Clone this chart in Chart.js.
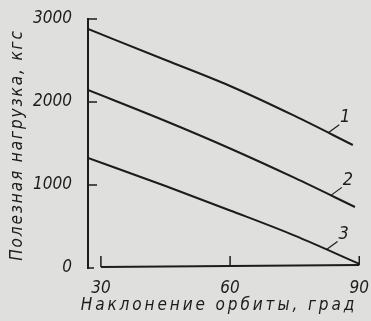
<!DOCTYPE html>
<html lang="ru">
  <head>
    <meta charset="UTF-8" />
    <title>Полезная нагрузка и наклонение орбиты</title>
    <script src="https://cdn.jsdelivr.net/npm/chart.js"></script>
    <style>
      html, body {
        margin: 0;
        padding: 0;
        background: #dfdfdd;
      }
      #wrap {
        width: 371px;
        height: 321px;
      }
    </style>
  </head>
  <body>
    <div id="wrap">
      <canvas id="payloadChart" width="371" height="321"></canvas>
    </div>
    <script>
      // данные
      const incl1 = [27, 45, 60, 75, 88.5];
      const load1 = [2880, 2506, 2193, 1832, 1482];
      const incl2 = [27, 45, 60, 75, 89];
      const load2 = [2145, 1771, 1440, 1085, 735];
      const incl3 = [27, 45, 60, 75, 90];
      const load3 = [1325, 988, 693, 390, 50];
      const curveLabels = ['1', '2', '3'];
      const xTicks = [30, 60, 90];
      const yTicks = [0, 1000, 2000, 3000];
      const xTitle = 'Наклонение орбиты, град';
      const yTitle = 'Полезная нагрузка, кгс';

      const ink = '#1c1c1c';
      const font = '"DejaVu Sans Condensed", sans-serif';

      const toPoints = (xs, ys) => xs.map((x, i) => ({ x: x, y: ys[i] }));

      // значение кривой в точке x (линейно между точками)
      function valueAt(data, x) {
        for (let i = 1; i < data.length; i++) {
          if (x <= data[i].x) {
            const a = data[i - 1], b = data[i];
            return a.y + ((x - a.x) * (b.y - a.y)) / (b.x - a.x);
          }
        }
        return data[data.length - 1].y;
      }

      const decorations = {
        id: 'decorations',
        afterDraw(chart) {
          const ctx = chart.ctx;
          const xs = chart.scales.x;
          const ys = chart.scales.y;
          const left = chart.chartArea.left;
          ctx.save();
          ctx.strokeStyle = ink;
          ctx.lineWidth = 2;
          ctx.lineCap = 'butt';

          // ось X (от 30 до 90) и засечки вверх
          const y0 = ys.getPixelForValue(0) - 1;
          ctx.beginPath();
          ctx.moveTo(xs.getPixelForValue(30), y0);
          ctx.lineTo(xs.getPixelForValue(90), y0 - 2);
          ctx.stroke();
          ctx.lineWidth = 1.5;
          xTicks.forEach((t) => {
            const px = xs.getPixelForValue(t);
            ctx.beginPath();
            ctx.moveTo(px, y0 - (t === 90 ? 2 : 0));
            ctx.lineTo(px, y0 - 11);
            ctx.stroke();
          });

          // засечки оси Y внутрь
          yTicks.forEach((t) => {
            const py = ys.getPixelForValue(t);
            ctx.beginPath();
            ctx.moveTo(left, py);
            ctx.lineTo(left + (t === 0 ? 6 : 9), py);
            ctx.stroke();
          });

          // номера кривых с выносками
          ctx.lineWidth = 1.2;
          ctx.fillStyle = ink;
          ctx.font = 'italic 18px ' + font;
          ctx.textAlign = 'center';
          ctx.textBaseline = 'middle';
          const at = [82.8, 83.4, 82.4];
          chart.data.datasets.forEach((ds, i) => {
            const px = xs.getPixelForValue(at[i]);
            const py = ys.getPixelForValue(valueAt(ds.data, at[i]));
            ctx.beginPath();
            ctx.moveTo(px, py);
            ctx.lineTo(px + 11, py - 8);
            ctx.stroke();
            ctx.fillText(curveLabels[i], px + 17, py - 15);
          });

          // подписи осей с разрядкой
          ctx.font = 'italic 17px ' + font;
          ctx.letterSpacing = '2.9px';
          ctx.fillText(xTitle, 219, 306);
          ctx.translate(18, 145);
          ctx.rotate(-Math.PI / 2);
          ctx.letterSpacing = '1.9px';
          ctx.fillText(yTitle, 0, 0);
          ctx.restore();
        },
      };

      const lineStyle = {
        borderColor: ink,
        borderWidth: 2,
        pointRadius: 0,
        fill: false,
        cubicInterpolationMode: 'monotone',
      };

      new Chart(document.getElementById('payloadChart'), {
        type: 'line',
        data: {
          datasets: [
            { label: curveLabels[0], data: toPoints(incl1, load1), ...lineStyle },
            { label: curveLabels[1], data: toPoints(incl2, load2), ...lineStyle },
            { label: curveLabels[2], data: toPoints(incl3, load3), ...lineStyle },
          ],
        },
        options: {
          responsive: false,
          animation: false,
          layout: { padding: { top: 19, right: 11, left: 0, bottom: 0 } },
          plugins: {
            legend: { display: false },
            tooltip: { enabled: false },
          },
          scales: {
            x: {
              type: 'linear',
              min: 27,
              max: 90,
              afterBuildTicks: (s) => {
                s.ticks = xTicks.map((v) => ({ value: v }));
              },
              afterFit: (s) => {
                s.height = 53;
              },
              grid: { display: false },
              border: { display: false },
              ticks: {
                color: ink,
                padding: 2,
                callback: (v) => String(v),
                font: { family: font, size: 17, style: 'italic' },
              },
            },
            y: {
              type: 'linear',
              min: 0,
              max: 3000,
              afterBuildTicks: (s) => {
                s.ticks = yTicks.map((v) => ({ value: v }));
              },
              afterFit: (s) => {
                s.width = 88;
              },
              grid: { display: false },
              border: { display: true, color: ink, width: 2 },
              ticks: {
                color: ink,
                padding: 8,
                callback: (v) => String(v),
                font: { family: font, size: 17, style: 'italic' },
              },
            },
          },
        },
        plugins: [decorations],
      });
    </script>
  </body>
</html>
